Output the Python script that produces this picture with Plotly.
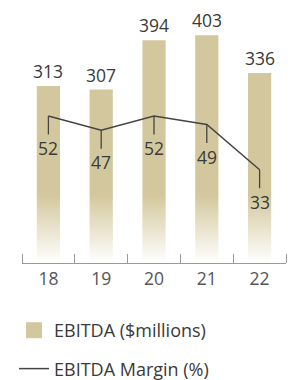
import plotly.graph_objects as go

years = ["18", "19", "20", "21", "22"]
ebitda = [313, 307, 394, 403, 336]
margin_pct = [52, 47, 52, 49, 33]

BAR = "#d3c89d"
TXT = "#3a3a3a"
FONT = "Open Sans"

pos = list(range(len(years)))
edges = [p - 0.5 for p in pos] + [pos[-1] + 0.5]

fig = go.Figure()

fig.add_trace(go.Bar(
    x=pos, y=ebitda, marker=dict(color=BAR, line=dict(width=0)),
    width=0.44, showlegend=False, hoverinfo="skip",
))

# white fade overlay at bar bottoms
fade_top = 120
fig.add_trace(go.Scatter(
    x=[edges[0], edges[-1]], y=[fade_top, fade_top],
    mode="lines", line=dict(width=0), fill="tozeroy",
    fillgradient=dict(type="vertical", start=0, stop=fade_top,
                      colorscale=[[0, "rgba(255,255,255,1)"], [1, "rgba(255,255,255,0)"]]),
    showlegend=False, hoverinfo="skip",
))

# legend proxy for bars
fig.add_trace(go.Scatter(
    x=[None], y=[None], mode="markers",
    marker=dict(symbol="square", size=16, color=BAR),
    name="EBITDA ($millions)", legendgroup="a",
))

fig.add_trace(go.Scatter(
    x=pos, y=margin_pct, yaxis="y2", mode="lines",
    line=dict(color="#444444", width=1.5),
    name="EBITDA Margin (%)", legendgroup="b", hoverinfo="skip",
))

annotations = []
for p, v in zip(pos, ebitda):
    annotations.append(dict(
        x=p, y=v, xref="x", yref="y", text=str(v), showarrow=False,
        yanchor="bottom", yshift=1, font=dict(family=FONT, size=17.5, color=TXT),
    ))
for p, v in zip(pos, margin_pct):
    annotations.append(dict(
        x=p, y=v, xref="x", yref="y2", text=str(v), showarrow=True,
        arrowhead=0, arrowwidth=1.3, arrowcolor="#444444", ax=0, ay=32,
        font=dict(family=FONT, size=17.5, color=TXT),
    ))

fig.update_layout(
    width=294, height=372,
    margin=dict(l=14, r=16, t=12, b=117, autoexpand=False),
    paper_bgcolor="white", plot_bgcolor="white",
    xaxis=dict(
        range=[edges[0], edges[-1]], tickmode="array", tickvals=pos, ticktext=years,
        ticks="", showline=True, linecolor="#9a9a9a", linewidth=1.2,
        minor=dict(tickmode="array", tickvals=edges, ticks="inside", ticklen=9,
                   tickcolor="#9a9a9a", tickwidth=1.2, showgrid=False),
        showgrid=False, zeroline=False,
        tickfont=dict(family=FONT, size=17.5, color="#555555"),
    ),
    yaxis=dict(range=[0, 430], visible=False, showgrid=False, zeroline=False),
    yaxis2=dict(range=[0, 86], overlaying="y", visible=False, showgrid=False, zeroline=False),
    legend=dict(
        x=(14 - 22) / 264, xref="paper", xanchor="left",
        y=-(312 - 263) / 243, yref="paper", yanchor="top",
        font=dict(family=FONT, size=18, color=TXT),
        traceorder="grouped", tracegroupgap=12, bgcolor="rgba(0,0,0,0)",
    ),
    annotations=annotations,
    font=dict(family=FONT),
)

fig.write_html("out.html")
